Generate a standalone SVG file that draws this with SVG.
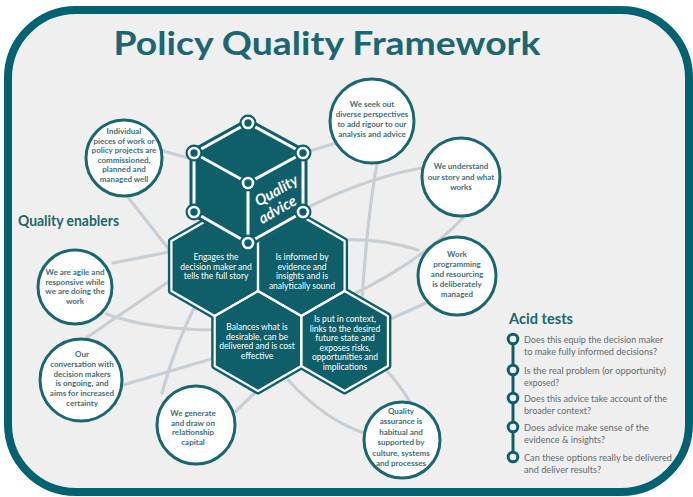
<svg xmlns="http://www.w3.org/2000/svg" width="693" height="497" viewBox="0 0 693 497">
<defs>
<style>
.frame{fill:#efefef;stroke:#016372;stroke-width:8}
.title{font-family:Lato,"Liberation Sans",sans-serif;font-weight:bold;fill:#1b6670}
.conn path{fill:none;stroke:#c7cfd5;stroke-width:3.2;stroke-linecap:round}
.circ{fill:#ffffff;stroke:#1a6770;stroke-width:3}
.ct{font-family:Lato,"Liberation Sans",sans-serif;font-weight:bold;font-size:8px;fill:#3f6f78;text-anchor:middle}
.hexbg{fill:#0f5f6b;stroke:#0f5f6b;stroke-width:7;stroke-linejoin:round}
.hexln{fill:none;stroke:#ffffff;stroke-width:2.2;stroke-linejoin:round}
.ht{font-family:Lato,"Liberation Sans",sans-serif;font-size:8.5px;fill:#ffffff;text-anchor:middle}
.cubebg{fill:#0f5f6b;stroke:#0f5f6b;stroke-width:9;stroke-linejoin:round}
.cubeln{fill:none;stroke:#ffffff;stroke-width:3;stroke-linejoin:round;stroke-linecap:round}
.nodeo{fill:#0f5f6b}
.nodei{fill:#0f5f6b;stroke:#ffffff;stroke-width:2.6}
.at{font-family:Lato,"Liberation Sans",sans-serif;font-size:9.5px;fill:#626b6e}
.ring{fill:#efefef;stroke:#0f5f6b;stroke-width:3}
.cubetext{font-family:Lato,"Liberation Sans",sans-serif;font-weight:bold;font-style:italic;font-size:15px;fill:#ffffff;text-anchor:middle}
</style>
</defs>
<rect x="0" y="0" width="693" height="497" fill="#ffffff"/>
<rect class="frame" x="8" y="10" width="681" height="482" rx="68" ry="68"/>
<text class="title" x="327" y="55" font-size="33" text-anchor="middle" textLength="427" lengthAdjust="spacingAndGlyphs">Policy Quality Framework</text>
<text class="title" x="18" y="226" font-size="14.5" textLength="101" lengthAdjust="spacingAndGlyphs">Quality enablers</text>

<g id="connectors" class="conn">
<path d="M160,150 Q180,156 196,160"/>
<path d="M127,196 Q150,225 174,256"/>
<path d="M113,263 L174,251"/>
<path d="M106,314 Q150,330 218,330"/>
<path d="M86,338 L174,278"/>
<path d="M123,385 L218,357"/>
<path d="M162,393 Q175,345 196,304"/>
<path d="M234,413 L262,386"/>
<path d="M288,380 Q325,420 364,433"/>
<path d="M386,370 Q400,385 410,402"/>
<path d="M336,143 L303,153"/>
<path d="M421,168 Q360,180 303,210"/>
<path d="M377,164 C370,200 366,240 362,300"/>
<path d="M340,240 Q380,238 418,250"/>
<path d="M463,218 Q420,262 350,296"/>
<path d="M384,322 L428,302"/>
</g>

<g id="hexes">
<polygon class="hexbg" points="214.7,216 258,241 258,291 214.7,316 171.4,291 171.4,241"/>
<polygon class="hexbg" points="301.3,216 344.6,241 344.6,291 301.3,316 258,291 258,241"/>
<polygon class="hexbg" points="258,291 301.3,316 301.3,366 258,391 214.7,366 214.7,316"/>
<polygon class="hexbg" points="344.6,291 387.9,316 387.9,366 344.6,391 301.3,366 301.3,316"/>
<polygon class="hexln" points="214.7,216 258,241 258,291 214.7,316 171.4,291 171.4,241"/>
<polygon class="hexln" points="301.3,216 344.6,241 344.6,291 301.3,316 258,291 258,241"/>
<polygon class="hexln" points="258,291 301.3,316 301.3,366 258,391 214.7,366 214.7,316"/>
<polygon class="hexln" points="344.6,291 387.9,316 387.9,366 344.6,391 301.3,366 301.3,316"/>
</g>
<g id="hex-engages">
<text class="ht" x="216" y="260">Engages the</text>
<text class="ht" x="216" y="269.5">decision maker and</text>
<text class="ht" x="216" y="279">tells the full story</text>
</g>
<g id="hex-informed">
<text class="ht" x="302" y="260">Is informed by</text>
<text class="ht" x="302" y="269.5">evidence and</text>
<text class="ht" x="302" y="279">insights and is</text>
<text class="ht" x="302" y="288.5">analytically sound</text>
</g>
<g id="hex-balances">
<text class="ht" x="257" y="330">Balances what is</text>
<text class="ht" x="257" y="339.5">desirable, can be</text>
<text class="ht" x="257" y="349">delivered and is cost</text>
<text class="ht" x="257" y="358.5">effective</text>
</g>
<g id="hex-context">
<text class="ht" x="345" y="322">Is put in context,</text>
<text class="ht" x="345" y="331.5">links to the desired</text>
<text class="ht" x="345" y="341">future state and</text>
<text class="ht" x="345" y="350.5">exposes risks,</text>
<text class="ht" x="345" y="360">opportunities and</text>
<text class="ht" x="345" y="369.5">implications</text>
</g>

<g id="cube">
<polygon class="cubebg" points="248,123 303,153 303,212 248,243 194,212 194,153"/>
<polygon class="cubeln" points="248,123 303,153 303,212 248,243 194,212 194,153"/>
<path class="cubeln" d="M194,153 L248,183 L303,153 M248,183 L248,243"/>
<g>
<circle class="nodeo" cx="248" cy="123" r="8.5"/><circle class="nodei" cx="248" cy="123" r="5"/>
<circle class="nodeo" cx="194" cy="153" r="8.5"/><circle class="nodei" cx="194" cy="153" r="5"/>
<circle class="nodeo" cx="303" cy="153" r="8.5"/><circle class="nodei" cx="303" cy="153" r="5"/>
<circle class="nodeo" cx="248" cy="183" r="8.5"/><circle class="nodei" cx="248" cy="183" r="5"/>
<circle class="nodeo" cx="194" cy="212" r="8.5"/><circle class="nodei" cx="194" cy="212" r="5"/>
<circle class="nodeo" cx="303" cy="212" r="8.5"/><circle class="nodei" cx="303" cy="212" r="5"/>
<circle class="nodeo" cx="248" cy="243" r="8.5"/><circle class="nodei" cx="248" cy="243" r="5"/>
</g>
<text class="cubetext" transform="translate(279,195) rotate(-30)">Quality</text>
<text class="cubetext" transform="translate(280,214) rotate(-30)">advice</text>
</g>

<g id="enabler-individual">
<circle class="circ" cx="124" cy="158" r="38"/>
<text class="ct" x="124" y="134">Individual</text>
<text class="ct" x="124" y="143.6">pieces of work or</text>
<text class="ct" x="124" y="153.2">policy projects are</text>
<text class="ct" x="124" y="162.8">commissioned,</text>
<text class="ct" x="124" y="172.4">planned and</text>
<text class="ct" x="124" y="182">managed well</text>
</g>
<g id="enabler-diverse">
<circle class="circ" cx="372" cy="121" r="42"/>
<text class="ct" x="372" y="107">We seek out</text>
<text class="ct" x="372" y="117">diverse perspectives</text>
<text class="ct" x="372" y="127">to add rigour to our</text>
<text class="ct" x="372" y="137">analysis and advice</text>
</g>
<g id="enabler-story">
<circle class="circ" cx="461" cy="177" r="39"/>
<text class="ct" x="461" y="169">We understand</text>
<text class="ct" x="461" y="179.5">our story and what</text>
<text class="ct" x="461" y="190">works</text>
</g>
<g id="enabler-work">
<circle class="circ" cx="457" cy="276" r="39"/>
<text class="ct" x="457" y="257">Work</text>
<text class="ct" x="457" y="267">programming</text>
<text class="ct" x="457" y="277">and resourcing</text>
<text class="ct" x="457" y="287">is deliberately</text>
<text class="ct" x="457" y="297">managed</text>
</g>
<g id="enabler-agile">
<circle class="circ" cx="75" cy="287" r="37"/>
<text class="ct" x="75" y="275">We are agile and</text>
<text class="ct" x="75" y="284.7">responsive while</text>
<text class="ct" x="75" y="294.4">we are doing the</text>
<text class="ct" x="75" y="304">work</text>
</g>
<g id="enabler-conversation">
<circle class="circ" cx="81" cy="380" r="41"/>
<text class="ct" x="82" y="357">Our</text>
<text class="ct" x="82" y="366.8">conversation with</text>
<text class="ct" x="82" y="376.6">decision makers</text>
<text class="ct" x="82" y="386.4">is ongoing, and</text>
<text class="ct" x="82" y="396.2">aims for increased</text>
<text class="ct" x="82" y="406">certainty</text>
</g>
<g id="enabler-relationship">
<circle class="circ" cx="196" cy="425" r="39"/>
<text class="ct" x="193" y="416">We generate</text>
<text class="ct" x="193" y="425.5">and draw on</text>
<text class="ct" x="193" y="435">relationship</text>
<text class="ct" x="193" y="444.5">capital</text>
</g>
<g id="enabler-assurance">
<circle class="circ" cx="402" cy="440" r="38"/>
<text class="ct" x="401" y="414">Quality</text>
<text class="ct" x="401" y="424.4">assurance is</text>
<text class="ct" x="401" y="434.8">habitual and</text>
<text class="ct" x="401" y="445.2">supported by</text>
<text class="ct" x="401" y="455.6">culture, systems</text>
<text class="ct" x="401" y="466">and processes</text>
</g>

<g id="acid-tests">
<text class="title" x="509" y="324" font-size="15" textLength="64" lengthAdjust="spacingAndGlyphs">Acid tests</text>
<line x1="513" y1="339" x2="513" y2="457" stroke="#0f5f6b" stroke-width="3"/>
<circle class="ring" cx="513" cy="339" r="4.8"/>
<circle class="ring" cx="513" cy="370" r="4.8"/>
<circle class="ring" cx="513" cy="398" r="4.8"/>
<circle class="ring" cx="513" cy="427" r="4.8"/>
<circle class="ring" cx="513" cy="457" r="4.8"/>
<text class="at" x="524" y="343" textLength="139" lengthAdjust="spacingAndGlyphs">Does this equip the decision maker</text>
<text class="at" x="524" y="354.5" textLength="133" lengthAdjust="spacingAndGlyphs">to make fully informed decisions?</text>
<text class="at" x="524" y="374" textLength="142" lengthAdjust="spacingAndGlyphs">Is the real problem (or opportunity)</text>
<text class="at" x="524" y="385.5" textLength="35" lengthAdjust="spacingAndGlyphs">exposed?</text>
<text class="at" x="524" y="402" textLength="143" lengthAdjust="spacingAndGlyphs">Does this advice take account of the</text>
<text class="at" x="524" y="413.5" textLength="67" lengthAdjust="spacingAndGlyphs">broader context?</text>
<text class="at" x="524" y="431" textLength="125" lengthAdjust="spacingAndGlyphs">Does advice  make sense of the</text>
<text class="at" x="524" y="442.5" textLength="81" lengthAdjust="spacingAndGlyphs">evidence &amp; insights?</text>
<text class="at" x="524" y="461" textLength="148" lengthAdjust="spacingAndGlyphs">Can these options really be delivered</text>
<text class="at" x="524" y="472.5" textLength="77" lengthAdjust="spacingAndGlyphs">and deliver results?</text>
</g>
</svg>
